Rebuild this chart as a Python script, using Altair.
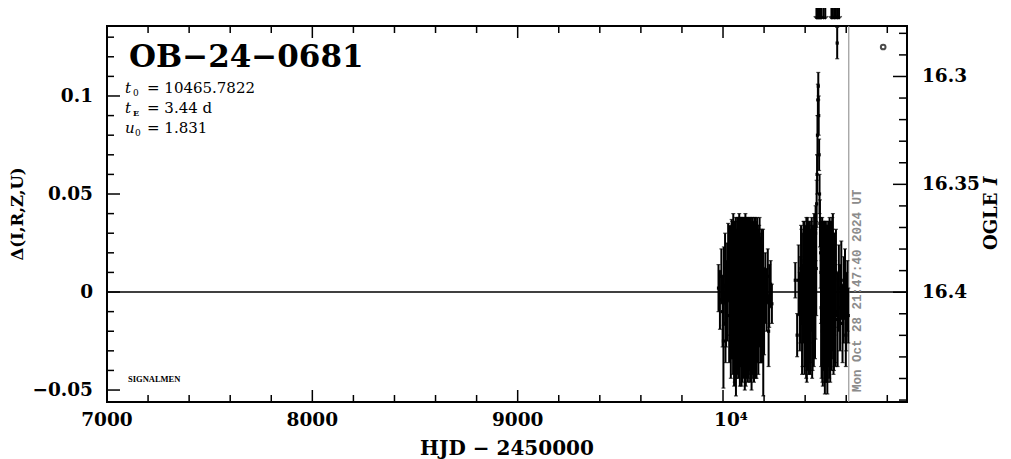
import altair as alt
import pandas as pd

# ---------------- data ----------------
hjd = [9978, 9985, 9992, 9998, 10004, 10010, 10015, 10020, 10025, 10030,
       10034, 10038, 10042, 10046, 10050, 10054, 10058, 10062, 10066, 10070,
       10073, 10076, 10079, 10082, 10085, 10088, 10091, 10094, 10097, 10100,
       10103, 10106, 10109, 10112, 10115, 10118, 10121, 10124, 10127, 10130,
       10133, 10136, 10139, 10142, 10145, 10148, 10151, 10154, 10157, 10160,
       10163, 10166, 10170, 10174, 10178, 10182, 10186, 10190, 10195, 10200,
       10206, 10212, 10218, 10225, 10232, 10238,
       10352, 10361, 10368, 10374, 10380, 10385, 10390, 10395, 10400, 10404,
       10408, 10412, 10416, 10420, 10424, 10428, 10432, 10436, 10440, 10444,
       10448, 10451, 10454, 10456, 10458, 10460, 10462, 10464, 10466, 10468,
       10470, 10472, 10475, 10478, 10481, 10484, 10487, 10490, 10493, 10496,
       10499, 10502, 10505, 10508, 10511, 10514, 10517, 10520, 10523, 10526,
       10530, 10534, 10538, 10542, 10546, 10550, 10556, 10558, 10564, 10570,
       10576, 10582, 10588, 10594, 10600, 10606, 10610]
delta = [0.002, -0.004, 0.008, -0.010, 0.003, 0.012, -0.006, 0.000, 0.015, -0.012,
         0.006, -0.018, 0.010, -0.004, 0.018, -0.020, 0.004, 0.012, -0.014, 0.020,
         -0.008, 0.002, 0.016, -0.022, 0.008, -0.002, 0.014, -0.016, 0.022, -0.006,
         0.006, -0.024, 0.010, -0.010, 0.018, 0.000, -0.018, 0.012, -0.004, 0.024,
         -0.012, 0.004, -0.026, 0.016, -0.008, 0.008, -0.020, 0.020, -0.002, 0.010,
         -0.016, 0.014, -0.010, 0.004, 0.018, -0.014, 0.006, -0.006, 0.012, -0.010,
         0.002, -0.004, 0.008, -0.002, 0.004, -0.006,
         0.006, -0.022, 0.006, -0.010, 0.012, -0.016, 0.002, 0.016, -0.008, 0.008,
         -0.020, 0.014, -0.004, 0.010, -0.014, 0.006, 0.018, -0.010, 0.010, 0.022,
         -0.006, 0.030, 0.012, 0.045, 0.060, 0.080, 0.098, 0.105, 0.090, 0.070,
         0.050, 0.035, 0.020, -0.008, 0.010, -0.020, 0.004, -0.012, 0.014, -0.026,
         0.002, -0.016, 0.008, -0.030, -0.004, 0.012, -0.020, 0.000, -0.012, 0.016,
         -0.006, 0.008, -0.018, 0.004, -0.010, 0.010, 0.127, -0.014, 0.002, -0.008,
         0.006, -0.016, -0.004, 0.004, -0.010, -0.002, -0.012]
err = [0.012, 0.015, 0.014, 0.018, 0.020, 0.018, 0.022, 0.025, 0.020, 0.024,
       0.028, 0.026, 0.027, 0.030, 0.022, 0.028, 0.032, 0.026, 0.030, 0.018,
       0.034, 0.028, 0.022, 0.026, 0.030, 0.036, 0.024, 0.030, 0.016, 0.032,
       0.028, 0.026, 0.030, 0.034, 0.020, 0.030, 0.028, 0.026, 0.036, 0.014,
       0.030, 0.032, 0.024, 0.022, 0.030, 0.028, 0.026, 0.018, 0.030, 0.026,
       0.028, 0.024, 0.026, 0.028, 0.020, 0.022, 0.024, 0.030, 0.020, 0.022,
       0.018, 0.016, 0.014, 0.016, 0.012, 0.010,
       0.009, 0.011, 0.018, 0.020, 0.022, 0.026, 0.028, 0.020, 0.030, 0.026,
       0.026, 0.024, 0.030, 0.024, 0.028, 0.026, 0.020, 0.030, 0.022, 0.018,
       0.028, 0.014, 0.024, 0.012, 0.010, 0.010, 0.008, 0.007, 0.010, 0.008,
       0.010, 0.012, 0.018, 0.030, 0.024, 0.026, 0.030, 0.028, 0.022, 0.026,
       0.030, 0.030, 0.026, 0.022, 0.028, 0.024, 0.024, 0.028, 0.026, 0.020,
       0.028, 0.024, 0.024, 0.026, 0.026, 0.022, 0.008, 0.024, 0.022, 0.022,
       0.020, 0.020, 0.022, 0.018, 0.020, 0.018, 0.014]

# second batch of observations (dense season cores and outliers)
hjd_b = [10041, 10045, 10049, 10053, 10057, 10061, 10065, 10069, 10072, 10075,
         10078, 10081, 10084, 10087, 10090, 10093, 10096, 10099, 10102, 10105,
         10108, 10111, 10114, 10117, 10120, 10123, 10126, 10129, 10132, 10135,
         10138, 10141, 10144, 10147, 10150, 10153, 10156, 10159, 10162, 10165,
         10168, 10172, 10176, 10180, 10184, 10188,
         10377, 10382, 10387, 10392, 10397, 10402, 10406, 10410, 10414, 10418,
         10422, 10426, 10430, 10434, 10438, 10442, 10446, 10450, 10477, 10480,
         10483, 10486, 10489, 10492, 10495, 10498, 10501, 10504, 10507, 10510,
         10513, 10516, 10519, 10522, 10525, 10528, 10532, 10536, 10540, 10544,
         10548,
         10002, 10063, 10196, 10079, 10012, 10222, 10405, 10535, 10598]
delta_b = [-0.010, 0.014, -0.016, 0.006, -0.022, 0.016, 0.002, -0.012, 0.010, -0.018,
           0.004, 0.012, -0.008, 0.020, -0.024, 0.000, 0.008, -0.014, 0.018, -0.002,
           0.012, -0.020, 0.004, 0.014, -0.008, -0.016, 0.010, 0.002, -0.022, 0.018,
           0.006, -0.012, 0.012, -0.018, 0.002, -0.006, 0.016, -0.020, 0.006, -0.004,
           0.010, -0.016, 0.012, 0.000, -0.010, 0.008,
           -0.004, 0.008, -0.012, 0.012, -0.020, 0.004, 0.016, -0.014, 0.006, -0.018,
           0.014, -0.006, 0.010, -0.016, 0.004, -0.010, 0.016, 0.004, 0.010, -0.014,
           0.016, -0.022, 0.006, -0.006, 0.010, -0.018, 0.014, -0.010, 0.004, -0.022,
           0.008, -0.006, 0.012, -0.024, 0.006, -0.014, 0.010, -0.004, -0.016, 0.006,
           -0.012,
           -0.025, -0.028, -0.030, 0.018, -0.016, -0.020, -0.024, 0.014, -0.022]
err_b = [0.024, 0.022, 0.026, 0.028, 0.024, 0.020, 0.030, 0.026, 0.028, 0.026,
         0.032, 0.026, 0.030, 0.018, 0.024, 0.032, 0.028, 0.030, 0.020, 0.034,
         0.026, 0.028, 0.030, 0.024, 0.032, 0.028, 0.026, 0.030, 0.024, 0.020,
         0.028, 0.030, 0.026, 0.026, 0.030, 0.032, 0.022, 0.024, 0.028, 0.030,
         0.024, 0.026, 0.022, 0.028, 0.026, 0.024,
         0.022, 0.024, 0.026, 0.024, 0.022, 0.028, 0.022, 0.026, 0.030, 0.024,
         0.022, 0.030, 0.026, 0.028, 0.030, 0.028, 0.022, 0.028, 0.026, 0.030,
         0.022, 0.026, 0.030, 0.030, 0.026, 0.028, 0.022, 0.030, 0.030, 0.024,
         0.028, 0.032, 0.026, 0.022, 0.030, 0.026, 0.028, 0.026, 0.024, 0.024,
         0.026,
         0.024, 0.025, 0.023, 0.022, 0.020, 0.018, 0.020, 0.026, 0.016]

arrow_hjd = [10455, 10460, 10465, 10470, 10475, 10480, 10490, 10498,
             10528, 10535, 10542, 10550, 10558, 10565]
ogle_hjd = [10780]
ogle_delta = [0.125]
now_hjd = [10612.4]

x_major = [7000, 8000, 9000, 10000]
x_labels = ["7000", "8000", "9000", "10\u2074"]
x_minor = [v for v in range(7200, 10900, 200) if v % 1000 != 0]
d_major = [-0.05, 0.0, 0.05, 0.1]
d_labels = ["\u22120.05", "0", "0.05", "0.1"]
d_minor = [-0.04, -0.03, -0.02, -0.01, 0.01, 0.02, 0.03, 0.04,
           0.06, 0.07, 0.08, 0.09, 0.11, 0.12, 0.13]
m_major = [16.3, 16.35, 16.4]
m_labels = ["16.3", "16.35", "16.4"]
m_minor = [16.28, 16.29, 16.31, 16.32, 16.33, 16.34, 16.36, 16.37,
           16.38, 16.39, 16.41, 16.42, 16.43, 16.44, 16.45]

W, H = 800, 376
SERIF = "DejaVu Serif"

xs = alt.Scale(domain=[7000, 10896], nice=False, zero=False)
ds = alt.Scale(domain=[-0.0561, 0.1357], nice=False, zero=False)
ms = alt.Scale(domain=[16.2766, 16.4509], reverse=True, nice=False, zero=False)

pts = pd.DataFrame({"hjd": hjd + hjd_b, "delta": delta + delta_b, "err": err + err_b})
one = pd.DataFrame({"a": [0]})

X = lambda f: alt.X(f, scale=xs, axis=None)
Yd = lambda f: alt.Y(f, scale=ds, axis=None)

# error bars
bars = alt.Chart(pts).transform_calculate(
    lo="datum.delta - datum.err", hi="datum.delta + datum.err"
).mark_rule(color="black", strokeWidth=2).encode(
    x=X("hjd:Q"), y=Yd("lo:Q"), y2="hi:Q",
)
caps_lo = alt.Chart(pts).transform_calculate(
    lo="datum.delta - datum.err"
).mark_tick(color="black", orient="horizontal", size=4, thickness=1.2).encode(
    x=X("hjd:Q"), y=Yd("lo:Q"),
)
caps_hi = alt.Chart(pts).transform_calculate(
    hi="datum.delta + datum.err"
).mark_tick(color="black", orient="horizontal", size=4, thickness=1.2).encode(
    x=X("hjd:Q"), y=Yd("hi:Q"),
)
dots = alt.Chart(pts).mark_square(color="black", size=10, opacity=1).encode(
    x=X("hjd:Q"), y=Yd("delta:Q"),
)

zero_line = alt.Chart(one).transform_calculate(z="0").mark_rule(
    color="black", strokeWidth=1.3).encode(y=Yd("z:Q"))

now_line = alt.Chart(pd.DataFrame({"hjd": now_hjd})).mark_rule(
    color="#999999", strokeWidth=1.2).encode(x=X("hjd:Q"))

ogle_pt = alt.Chart(pd.DataFrame({"hjd": ogle_hjd, "delta": ogle_delta})).mark_point(
    shape="circle", size=22, color="black", strokeWidth=2, filled=False).encode(
    x=X("hjd:Q"), y=Yd("delta:Q"),
)

adf = pd.DataFrame({"hjd": arrow_hjd})
arrow_shaft = alt.Chart(adf).mark_rule(color="black", strokeWidth=2, clip=False).encode(
    x=X("hjd:Q"), y=alt.value(-18), y2=alt.value(-7),
)
arrow_head = alt.Chart(adf).mark_point(
    shape="M-1,-1L0,0L1,-1", size=30, color="black", strokeWidth=1.2,
    filled=False, clip=False).encode(
    x=X("hjd:Q"), y=alt.value(-7),
)

# inward ticks
def xticks(vals, length, top):
    df = pd.DataFrame({"t": vals})
    if top:
        yy, yy2 = alt.value(0), alt.value(length)
    else:
        yy, yy2 = alt.value(H), alt.value(H - length)
    return alt.Chart(df).mark_rule(color="black", strokeWidth=1.5).encode(
        x=X("t:Q"), y=yy, y2=yy2)

def dticks(vals, length):
    df = pd.DataFrame({"t": vals})
    return alt.Chart(df).mark_rule(color="black", strokeWidth=1.5).encode(
        y=Yd("t:Q"), x=alt.value(0), x2=alt.value(length))

tick_layers = [
    xticks(x_major, 12, False), xticks(x_minor, 7, False),
    xticks(x_major, 12, True), xticks(x_minor, 7, True),
    dticks(d_major, 13), dticks(d_minor, 7),
]

LAB = dict(font=SERIF, fontSize=18.5, fontWeight="bold", color="black")
xlab = alt.Chart(pd.DataFrame({"v": x_major[:3], "t": x_labels[:3]})).mark_text(
    align="center", baseline="middle", **LAB).encode(
    x=X("v:Q"), y=alt.value(H + 18), text="t:N")
xlab10 = alt.Chart(pd.DataFrame({"v": x_major[3:], "t": x_labels[3:]})).mark_text(
    align="center", baseline="middle", dx=8, **LAB).encode(
    x=X("v:Q"), y=alt.value(H + 18), text="t:N")
dlab = alt.Chart(pd.DataFrame({"v": d_major, "t": d_labels})).mark_text(
    align="right", baseline="middle", **LAB).encode(
    y=Yd("v:Q"), x=alt.value(-14), text="t:N")

def txt(s, x, y, size, weight="normal", style="normal", font=SERIF, color="black",
        align="left", baseline="alphabetic", angle=0):
    return alt.Chart(one).mark_text(
        text=s, font=font, fontSize=size, fontWeight=weight, fontStyle=style,
        color=color, align=align, baseline=baseline, angle=angle,
    ).encode(x=alt.value(x), y=alt.value(y))

texts = [
    txt("OB\u221224\u22120681", 22, 41, 31, weight="bold"),
    txt("t", 18, 67, 15, style="italic"),
    txt("0", 26, 70, 9),
    txt("= 10465.7822", 40, 67, 15),
    txt("t", 18, 87, 15, style="italic"),
    txt("E", 26, 90, 8, weight="bold"),
    txt("= 3.44  d", 40, 87, 15),
    txt("u", 18, 107, 15, style="italic"),
    txt("0", 28, 110, 9),
    txt("= 1.831", 40, 107, 15),
    txt("SIGNALMEN", 21, 356, 8.5, weight="bold", font="Liberation Serif"),
    txt("Mon Oct 28 21:47:40 2024 UT", 750, 366, 12.5, weight="bold",
        font="Liberation Mono", color="#8c8c8c", baseline="middle", angle=270),
    txt("HJD \u2212 2450000", 400, 423, 20, weight="bold", align="center",
        baseline="middle"),
    txt("\u0394(I,R,Z,U)", -89, 188, 16.5, weight="bold", align="center",
        baseline="middle", angle=270),
    txt("OGLE", 885, 224, 18, weight="bold", baseline="middle", angle=270),
    txt("I", 885, 159, 18, weight="bold", style="italic", baseline="middle", angle=270),
]

delta_layer = alt.layer(
    zero_line, now_line, bars, caps_lo, caps_hi, dots, ogle_pt,
    arrow_shaft, arrow_head, *tick_layers, xlab, xlab10, dlab, *texts,
)

Ym = lambda f: alt.Y(f, scale=ms, axis=None)
mag_major = alt.Chart(pd.DataFrame({"t": m_major})).mark_rule(
    color="black", strokeWidth=1.5).encode(
    y=Ym("t:Q"), x=alt.value(W), x2=alt.value(W - 14))
mag_minor = alt.Chart(pd.DataFrame({"t": m_minor})).mark_rule(
    color="black", strokeWidth=1.5).encode(
    y=Ym("t:Q"), x=alt.value(W), x2=alt.value(W - 8))
mlab = alt.Chart(pd.DataFrame({"v": m_major, "t": m_labels})).mark_text(
    align="left", baseline="middle", **LAB).encode(
    y=Ym("v:Q"), x=alt.value(W + 15), text="t:N")
mag_layer = alt.layer(mag_major, mag_minor, mlab)

chart = alt.layer(delta_layer, mag_layer).resolve_scale(y="independent").properties(
    width=W, height=H,
    autosize=alt.AutoSizeParams(type="none"),
    padding={"left": 99, "top": 18, "right": 96, "bottom": 57},
    background="white",
).configure_view(stroke="black", strokeWidth=2)

chart.save("out.html", embed_options={"renderer": "svg", "actions": False})
